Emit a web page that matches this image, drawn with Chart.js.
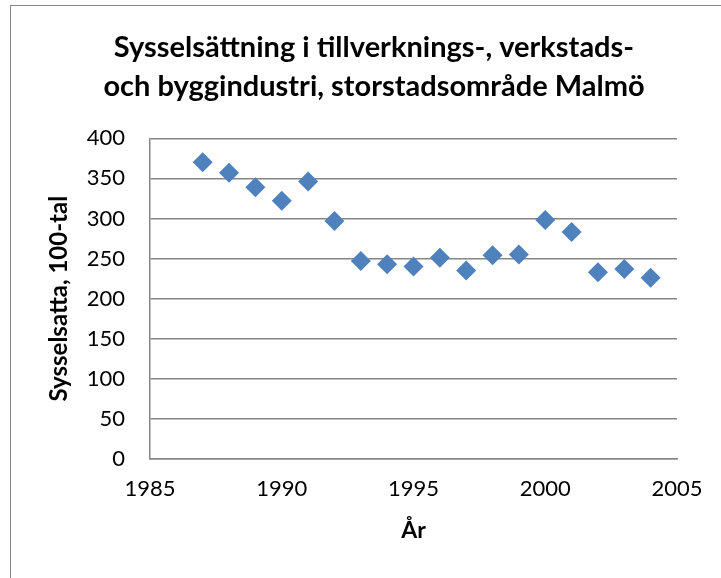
<!DOCTYPE html>
<html>
<head>
<meta charset="utf-8">
<script src="https://cdn.jsdelivr.net/npm/chart.js@4/dist/chart.umd.min.js"></script>
<style>
  html, body { margin: 0; padding: 0; background: #fff; overflow: hidden; }
  #frame { position: absolute; left: 10px; top: 5px; border: 1px solid #868686; width: 726px; height: 590px; }
  canvas { display: block; }
</style>
</head>
<body>
<div id="frame"><canvas id="chart" width="726" height="590"></canvas></div>
<script>
const titleLines = ['Sysselsättning i tillverknings-, verkstads-', 'och byggindustri, storstadsområde Malmö'];
const years = [1987, 1988, 1989, 1990, 1991, 1992, 1993, 1994, 1995, 1996, 1997, 1998, 1999, 2000, 2001, 2002, 2003, 2004];
const employed = [370, 357, 339, 322, 346, 297, 247, 243, 240, 251, 235, 254, 255, 298, 283, 233, 237, 226];
const xTicks = [1985, 1990, 1995, 2000, 2005];
const yTicks = [0, 50, 100, 150, 200, 250, 300, 350, 400];

const grey = '#868686';
Chart.defaults.font.family = 'Lato, Calibri, sans-serif';
Chart.defaults.color = '#000';

const ctx = document.getElementById('chart').getContext('2d');

new Chart(ctx, {
  type: 'scatter',
  data: {
    datasets: [{
      data: years.map((y, i) => ({ x: y, y: employed[i] })),
      pointStyle: 'rectRot',
      pointRadius: 10,
      pointHoverRadius: 10,
      backgroundColor: '#4F81BD',
      borderColor: '#4F81BD',
      borderWidth: 0,
    }],
  },
  options: {
    responsive: false,
    animation: false,
    devicePixelRatio: 1,
    layout: { padding: 0 },
    plugins: {
      legend: { display: false },
      tooltip: { enabled: false },
      title: {
        display: true,
        text: titleLines,
        color: '#000',
        font: { size: 29, weight: 'bold', lineHeight: 1.35 },
        padding: { top: 22, bottom: 32 },
      },
    },
    scales: {
      x: {
        type: 'linear',
        min: 1985,
        max: 2005,
        afterBuildTicks: (s) => { s.ticks = xTicks.map((v) => ({ value: v })); },
        grid: { display: false },
        border: { display: true, color: grey, width: 1.5 },
        ticks: { padding: 9, font: { size: 22 }, callback: (v) => String(v) },
        title: { display: true, text: 'År', font: { size: 23, weight: 'bold' }, padding: { top: 0, bottom: 52 } },
        afterFit: (s) => { s.height = 137; },
      },
      y: {
        min: 0,
        max: 400,
        afterBuildTicks: (s) => { s.ticks = yTicks.map((v) => ({ value: v })); },
        grid: { color: grey, lineWidth: 1.5, drawTicks: false },
        border: { display: true, color: grey, width: 1.5 },
        ticks: { padding: 25, font: { size: 22 } },
        title: { display: true, text: 'Sysselsatta, 100-tal', font: { size: 24, weight: 'bold' }, padding: { top: 34, bottom: 0 } },
        afterFit: (s) => { s.width = 139; },
      },
      pad: {
        type: 'linear',
        position: 'right',
        display: true,
        grid: { display: false },
        border: { display: false },
        ticks: { display: false },
        afterFit: (s) => { s.width = 60; },
      },
    },
  },
});
</script>
</body>
</html>
